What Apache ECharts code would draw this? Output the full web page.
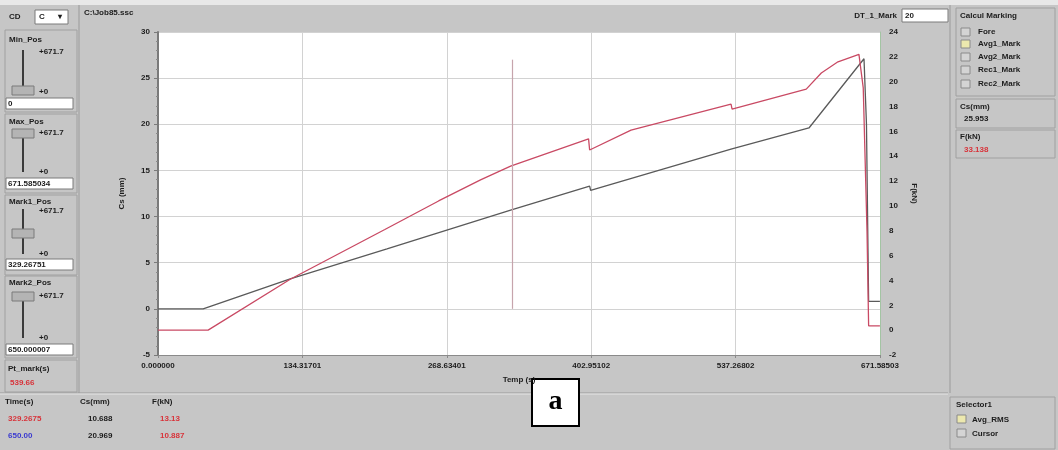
<!DOCTYPE html>
<html>
<head>
<meta charset="utf-8">
<script src="https://cdn.jsdelivr.net/npm/echarts@6/dist/echarts.min.js"></script>
<style>
  html, body { margin: 0; padding: 0; background: #c6c6c6; }
  #chart { width: 1058px; height: 450px; }
</style>
</head>
<body>
<div id="chart"></div>
<script>
// x ticks as printed by the instrument software
const timeTicks = ["0.000000", "134.31701", "268.63401", "402.95102", "537.26802", "671.58503"];
const timeStep = 134.317006;
const timeMax = 671.58503;

// Cs (mm), left axis
const csTime = [0, 42, 123, 213, 328, 401.5, 402.4, 533, 534, 605.5, 656.7, 659, 661, 671.5];
const csValue = [0, 0, 3.25, 6.5, 10.7, 13.3, 12.85, 17.3, 17.1, 19.6, 27.1, 20, 0.8, 0.8];

// F (kN), right axis
const fTime = [0, 46.6, 123, 211, 261, 300, 328, 400.5, 401.5, 440, 533, 534, 603, 617, 632.5, 652, 656, 659.5, 661, 671.5];
const fValue = [0, 0, 4.1, 8.1, 10.4, 12.1, 13.2, 15.4, 14.5, 16.1, 18.2, 17.8, 19.4, 20.7, 21.6, 22.2, 19.5, 8, 0.35, 0.35];

// cursor mark
const cursorTime = 329.2675;
const cursorSpan = [0, 27];

const ink = "#1c1c1c";
const font = "Liberation Sans";
const panelLine = "#8e8e8e";

function txt(x, y, s, color, extra) {
  return Object.assign({
    type: "text", x: x, y: y, silent: true,
    style: Object.assign({
      text: s, fill: color || ink, font: "bold 8px '" + font + "'",
      textVerticalAlign: "middle"
    }, (extra && extra.style) || {})
  }, extra && extra.pos ? extra.pos : {});
}
function box(x, y, w, h, fill, stroke, lw) {
  return {
    type: "rect", silent: true,
    shape: { x: x, y: y, width: w, height: h },
    style: { fill: fill || "none", stroke: stroke || panelLine, lineWidth: lw || 1 }
  };
}
function line(x1, y1, x2, y2, color, lw) {
  return {
    type: "line", silent: true,
    shape: { x1: x1, y1: y1, x2: x2, y2: y2 },
    style: { stroke: color || panelLine, lineWidth: lw || 1 }
  };
}
function slider(top, groupY, trackFrom, trackTo, thumbY, label, inputY, inputText) {
  return [
    box(5, groupY[0], 72, groupY[1] - groupY[0], "none", "#a0a0a0"),
    txt(9, top, label),
    line(23, trackFrom, 23, trackTo, "#3a3a3a", 2),
    box(12, thumbY, 22, 9, "#b4b4b4", "#7a7a7a"),
    txt(39, trackFrom + 2, "+671.7"),
    txt(39, trackTo, "+0"),
    box(6, inputY, 67, 11, "#ffffff", "#7a7a7a"),
    txt(8, inputY + 6, inputText)
  ];
}

const ui = [].concat(
  [
    box(0, 0, 1058, 5, "#e8e8e8", "none"),
    line(79, 5, 79, 393, "#9a9a9a"),
    line(950, 5, 950, 393, "#9a9a9a"),
    line(0, 393, 948, 393, "#9a9a9a"),
    line(0, 394, 948, 394, "#e6e6e6"),
    txt(9, 17, "CD"),
    box(35, 10, 33, 14, "#ffffff", "#7a7a7a"),
    txt(39, 17, "C"),
    txt(58, 17, "\u25be"),
    txt(84, 13, "C:\\Job85.ssc"),
    txt(897, 16, "DT_1_Mark", ink, { style: { textAlign: "right" } }),
    box(902, 9, 46, 13, "#ffffff", "#7a7a7a"),
    txt(905, 16, "20")
  ],
  slider(40, [30, 112], 50, 92, 86, "Min_Pos", 98, "0"),
  slider(122, [114, 193], 131, 172, 129, "Max_Pos", 178, "671.585034"),
  slider(202, [195, 275], 209, 254, 229, "Mark1_Pos", 259, "329.26751"),
  slider(283, [276, 358], 294, 338, 292, "Mark2_Pos", 344, "650.000007"),
  [
    box(5, 360, 72, 32, "none", "#a0a0a0"),
    txt(8, 369, "Pt_mark(s)"),
    txt(10, 383, "539.66", "#d8333a"),

    // right panel
    box(956, 8, 99, 88, "none", "#a0a0a0"),
    txt(960, 16, "Calcul Marking"),
    box(961, 28, 9, 8, "#d4d4d4", "#8a8a8a"), txt(978, 32, "Fore"),
    box(961, 40, 9, 8, "#ece8ae", "#8a8a8a"), txt(978, 44, "Avg1_Mark"),
    box(961, 53, 9, 8, "#d4d4d4", "#8a8a8a"), txt(978, 57, "Avg2_Mark"),
    box(961, 66, 9, 8, "#d4d4d4", "#8a8a8a"), txt(978, 70, "Rec1_Mark"),
    box(961, 80, 9, 8, "#d4d4d4", "#8a8a8a"), txt(978, 84, "Rec2_Mark"),
    box(956, 99, 99, 29, "none", "#a0a0a0"),
    txt(960, 107, "Cs(mm)"),
    txt(964, 119, "25.953"),
    box(956, 130, 99, 28, "none", "#a0a0a0"),
    txt(960, 137, "F(kN)"),
    txt(964, 150, "33.138", "#d8333a"),

    // readouts under the chart
    txt(5, 402, "Time(s)"),
    txt(80, 402, "Cs(mm)"),
    txt(152, 402, "F(kN)"),
    txt(8, 419, "329.2675", "#d8333a"),
    txt(88, 419, "10.688"),
    txt(160, 419, "13.13", "#d8333a"),
    txt(8, 436, "650.00", "#3a3ad0"),
    txt(88, 436, "20.969"),
    txt(160, 436, "10.887", "#d8333a"),

    box(950, 397, 105, 52, "none", "#a0a0a0"),
    txt(956, 405, "Selector1"),
    box(957, 415, 9, 8, "#ece8ae", "#8a8a8a"), txt(972, 420, "Avg_RMS"),
    box(957, 429, 9, 8, "#d4d4d4", "#8a8a8a"), txt(972, 434, "Cursor"),

    // panel label
    box(532, 379, 47, 47, "#ffffff", "#000000", 2),
    {
      type: "text", x: 555.5, y: 402, silent: true,
      style: {
        text: "a", fill: "#000", font: "bold 28px 'Liberation Serif'",
        textAlign: "center", textVerticalAlign: "middle"
      }
    }
  ]
);

const chart = echarts.init(document.getElementById("chart"));
const tickFont = { color: ink, fontSize: 8, fontWeight: "bold", fontFamily: font };

chart.setOption({
  animation: false,
  backgroundColor: "#c6c6c6",
  grid: {
    left: 158, right: 178, top: 32, bottom: 95,
    show: true, backgroundColor: "#ffffff", borderWidth: 0
  },
  xAxis: {
    type: "value",
    min: 0,
    max: timeMax,
    interval: timeStep,
    name: "Temp (s)",
    nameLocation: "middle",
    nameGap: 21,
    nameTextStyle: tickFont,
    axisLine: { onZero: false, lineStyle: { color: "#8a8a8a", width: 1 } },
    axisTick: { show: true, length: 3, lineStyle: { color: "#8a8a8a" } },
    axisLabel: Object.assign({}, tickFont, {
      margin: 7,
      formatter: (v) => timeTicks[Math.round(v / timeStep)] || ""
    }),
    splitLine: { show: true, lineStyle: { color: "#d2d2d2", width: 1 } }
  },
  yAxis: [
    {
      type: "value",
      min: -5, max: 30, interval: 5,
      name: "Cs (mm)",
      nameLocation: "middle",
      nameGap: 32,
      nameRotate: 90,
      nameTextStyle: tickFont,
      axisLine: { show: true, onZero: false, lineStyle: { color: "#7a7a7a", width: 2 } },
      axisTick: { show: true, length: 4, lineStyle: { color: "#7a7a7a" } },
      minorTick: { show: true, splitNumber: 5, length: 2, lineStyle: { color: "#8a8a8a" } },
      axisLabel: Object.assign({}, tickFont, { margin: 8 }),
      splitLine: { show: true, lineStyle: { color: "#d2d2d2", width: 1 } }
    },
    {
      type: "value",
      min: -2, max: 24, interval: 2,
      name: "F(kN)",
      nameLocation: "middle",
      nameGap: 30,
      nameRotate: 270,
      nameTextStyle: tickFont,
      axisLine: { show: true, onZero: false, lineStyle: { color: "#a3c4a3", width: 1 } },
      axisTick: { show: false },
      axisLabel: Object.assign({}, tickFont, { margin: 9 }),
      splitLine: { show: false }
    }
  ],
  series: [
    {
      name: "Cs(mm)",
      type: "line",
      yAxisIndex: 0,
      data: csTime.map((t, i) => [t, csValue[i]]),
      showSymbol: false,
      lineStyle: { color: "#5a5a5a", width: 1.3 },
      markLine: {
        silent: true,
        symbol: "none",
        label: { show: false },
        lineStyle: { color: "#c6a4ac", width: 1.2, type: "solid" },
        data: [[{ coord: [cursorTime, cursorSpan[0]] }, { coord: [cursorTime, cursorSpan[1]] }]]
      }
    },
    {
      name: "F(kN)",
      type: "line",
      yAxisIndex: 1,
      data: fTime.map((t, i) => [t, fValue[i]]),
      showSymbol: false,
      lineStyle: { color: "#c94a64", width: 1.3 }
    }
  ],
  graphic: ui
});
</script>
</body>
</html>
